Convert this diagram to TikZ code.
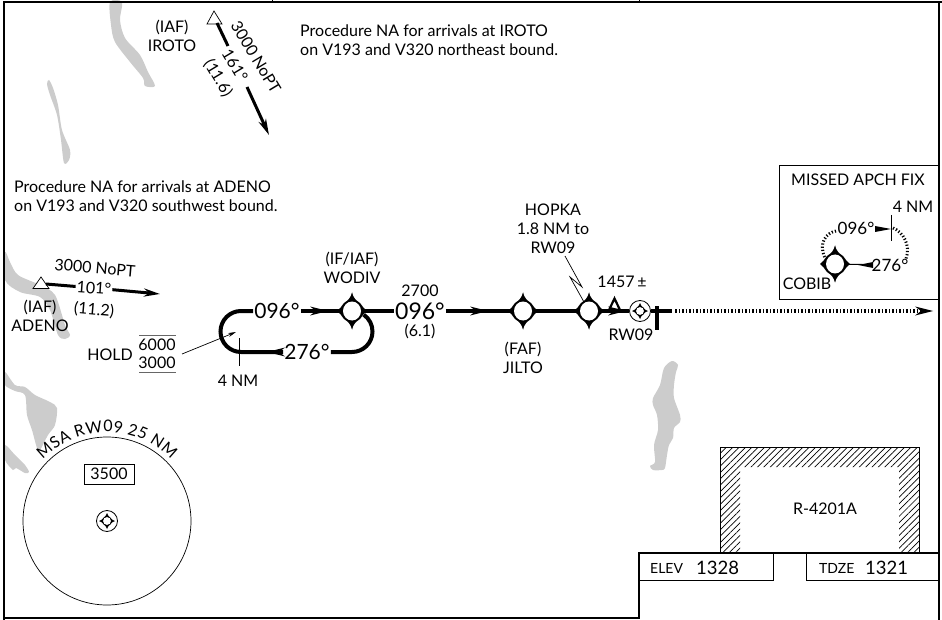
\documentclass[tikz,border=0pt]{standalone}
\usepackage{fontspec}
\setmainfont{Lato}
\usetikzlibrary{arrows.meta,patterns.meta,decorations.text}

% Concave four point fix symbol, drawn over the track at a named node
\newcommand{\fixmark}[1]{%
  \foreach \sx/\sy in {1/1,-1/1,1/-1,-1/-1} {
    \fill[shift={(#1)}, xscale=\sx, yscale=\sy] (0,-18.5) .. controls (1.5,-13) and (3.5,-11) .. (8,-8)
      .. controls (11,-4.5) and (12,-1.5) .. (15,0) -- (0,0) -- cycle;
  }
  \foreach \sx/\sy in {1/1,-1/1,1/-1,-1/-1} {
    \fill[white, shift={(#1)}, xscale=\sx, yscale=\sy] (0,-9.5) .. controls (5,-9.5) and (9,-5) .. (9,0) -- (0,0) -- cycle;
  }
}
% Small version of the same for the VOR rose
\newcommand{\vormark}[1]{%
  \draw[line width=0.8pt, fill=white] (#1) circle[radius=10.5];
  \foreach \sx/\sy in {1/1,-1/1,1/-1,-1/-1} {
    \fill[shift={(#1)}, xscale=\sx, yscale=\sy] (0,-8) .. controls (0.5,-5.5) and (2,-4.5) .. (3.4,-3.4)
      .. controls (4.5,-2) and (5.5,-0.5) .. (8,0) -- (0,0) -- cycle;
  }
  \fill[white] (#1) circle[radius=3.9];
}
% Feathered head in the middle of a track
\newcommand{\barb}[2]{%
  \fill[shift={(#1)}, rotate=#2] (0,0) -- (-18,-4.5) -- (-12,0) -- (-18,4.5) -- cycle;
}

\begin{document}
\begin{tikzpicture}[x=1pt, y=-1pt,
    lbl/.style={inner sep=0pt, align=center, font=\fontsize{16}{19}\selectfont},
    small/.style={lbl, font=\fontsize{14}{18}\selectfont},
    course/.style={inner sep=1pt, fill=white, font=\fontsize{21}{21}\selectfont},
    note/.style={inner sep=0pt, align=left, anchor=west, font=\fontsize{16}{19}\selectfont},
    track/.style={line width=4pt},
    leg/.style={line width=3pt},
    thinline/.style={line width=0.7pt},
    fixnode/.style={circle, inner sep=0pt, minimum size=20pt},
    lake/.style={fill=black!20, draw=none}]
\useasboundingbox (0,0) rectangle (942,620);

% Lakes
\fill[lake] plot[smooth cycle] coordinates {(110,2) (122,2) (120,20) (125,38) (140,55) (148,72) (155,86) (145,86) (143,78) (130,62) (115,42) (111,25)};
\fill[lake] plot[smooth cycle] coordinates {(49,80) (53,88) (58,105) (62,130) (70,150) (69,160) (64,163) (61,140) (57,115) (50,95) (47,84)};
\fill[lake] plot[smooth cycle] coordinates {(5,252) (10,262) (18,275) (40,285) (55,295) (65,325) (70,335) (65,339) (58,335) (50,310) (40,297) (20,292) (5,280)};
\fill[lake] plot[smooth cycle] coordinates {(5,372) (15,385) (25,387) (35,395) (50,402) (57,408) (55,425) (48,435) (40,450) (37,448) (32,430) (27,415) (25,395) (15,391) (5,385)};
\fill[lake] plot[smooth cycle] coordinates {(5,445) (15,455) (25,465) (29,472) (25,473) (16,468) (13,470) (5,460)};
\fill[lake] plot[smooth cycle] coordinates {(672,361) (678,365) (676,372) (674,385) (674,398) (680,415) (680,422) (674,428) (673,438) (669,445) (667,455) (665,468) (662,470) (653,470) (650,466) (655,462) (654,445) (658,430) (657,415) (653,405) (653,398) (660,385) (664,368)};

% Restricted area
\fill[pattern={Lines[angle=45, distance=4.5pt, line width=0.7pt]}, even odd rule]
  (720,447) rectangle (919,553) (740,467) rectangle (899,553);
\draw[thinline] (720,553) -- (720,447) -- (919,447) -- (919,553);
\node[lbl] (area) at (825,509) {R-4201A};

% Chart frame
\draw[line width=2pt] (4,620) -- (4,2) -- (942,2);
\draw[line width=2pt] (4,618) -- (639,618) -- (639,553) -- (939,553);
\draw[line width=2pt] (939,2) -- (939,620);
\draw[line width=1pt] (272,0) -- (272,2);
\draw[line width=1pt] (639,0) -- (639,2);
\draw[thinline] (639,580) -- (773,580) -- (773,553);
\draw[thinline] (806,553) -- (806,580) -- (939,580);
\node[small, anchor=west] (elev) at (650,568) {ELEV};
\node[lbl, anchor=west, font=\fontsize{18.5}{20}\selectfont] (elevval) at (696,568) {1328};
\node[small, anchor=west] (tdze) at (819,568) {TDZE};
\node[lbl, anchor=west, font=\fontsize{18.5}{20}\selectfont] (tdzeval) at (865,568) {1321};

% Procedure notes
\node[note] (notenorth) at (300,40) {Procedure NA for arrivals at IROTO\\on V193 and V320 northeast bound.};
\node[note] (notesouth) at (14,196) {Procedure NA for arrivals at ADENO\\on V193 and V320 southwest bound.};

% Fixes on the final course
\node[fixnode] (wodiv) at (352,311) {};
\node[fixnode] (jilto) at (523,311) {};
\node[fixnode] (hopka) at (589,311) {};
\node[circle, inner sep=0pt, minimum size=21pt] (rwy) at (640,311) {};
\coordinate (thr) at (672,311);
\coordinate (mapend) at (925,311);

% Final course
\node[course, font=\fontsize{23}{23}\selectfont] (crsfinal) at (420,311) {096°};
\node[lbl, above of=crsfinal, node distance=20pt] (alt) {2700};
\node[lbl, below of=crsfinal, node distance=20pt] (dist) {(6.1)};
\draw[track] (wodiv) -- (crsfinal);
\draw[track] (crsfinal) -- (jilto);
\draw[track] (jilto) -- (hopka);
\draw[track] (hopka) -- (rwy);
\draw[track] (rwy) -- (thr);
\draw[line width=3.4pt, dash pattern=on 1.5pt off 2pt] (thr) ++(3,0) -- (mapend);
\barb{488,311}{0}
\barb{626,311}{0}
\barb{933,311}{0}
\draw[line width=3.6pt] (657,306) -- (657,330);

% Holding pattern
\node[course] (hold096) at (277,311) {096°};
\node[course] (hold276) at (307,352) {276°};
\draw[track] (hold096) -- (wodiv);
\draw[track] (hold096.west) -- (241,311) arc (270:90:20.5) -- (hold276.west);
\draw[track] (hold276.east) -- (352,352) arc (90:-55:20.5);
\barb{328,311}{0}
\barb{267,352}{180}
\draw[thinline] (239,338) -- (239,366);
\node[lbl] (holddist) at (238,381) {4 NM};
\node[lbl] (holdword) at (110,355) {HOLD};
\node[lbl] (holdtop) at (157,345) {6000};
\node[lbl] (holdlow) at (157,363) {3000};
\draw[line width=1pt, black!60] (139,335.5) -- (176,335.5) (139,372) -- (176,372);
\coordinate (holdtip) at (236,332);
\draw[thinline, -{Stealth[length=8pt, width=4pt]}] (182,354) -- (holdtip);

% Fix symbols and their names
\fixmark{wodiv}
\fixmark{jilto}
\fixmark{hopka}
\vormark{rwy}
\node[lbl, above of=wodiv, node distance=43pt] (wodivtag) {(IF/IAF)\\WODIV};
\node[lbl, below of=jilto, node distance=47pt] (jiltotag) {(FAF)\\JILTO};
\node[lbl] (hopkatag) at (553,229) {HOPKA\\1.8 NM to\\RW09};
\draw[thinline] (hopkatag.south) ++(12,2) -- (582,287) -- (570,277) -- (hopka);
\node[lbl] (rwytag) at (631,335) {RW09};
\node[lbl] (obst) at (622,282) {1457\,±};
\draw[line width=2.2pt] (614.5,298.5) -- (620,310) -- (609,310) -- cycle;

% Arrival from ADENO
\draw[thinline, fill=white] (41,277) -- (49,288.5) -- (33,288.5) -- cycle;
\node[lbl, rotate=-4, inner sep=1pt] (crsadeno) at (94,288) {101°};
\node[lbl, rotate=-5] (altadeno) at (95,268) {3000 NoPT};
\node[lbl, rotate=-5] (distadeno) at (94,310) {(11.2)};
\draw[leg] (46,284) -- (crsadeno);
\draw[leg, -{Stealth[length=16pt, width=8pt, inset=5pt]}] (crsadeno) -- (160,294);
\node[lbl] (adenotag) at (40,316) {(IAF)\\ADENO};

% Arrival from IROTO
\draw[thinline, fill=white] (214,11) -- (222,24) -- (207,24) -- cycle;
\node[lbl, rotate=-59, inner sep=1pt] (crsiroto) at (235,65) {161°};
\node[lbl, rotate=-59] (altiroto) at (256,57) {3000 NoPT};
\node[lbl, rotate=-59] (distiroto) at (218,78) {(11.6)};
\draw[leg] (217,23) -- (228,46);
\draw[leg, -{Stealth[length=16pt, width=8pt, inset=5pt]}] (247,87) -- (269,135);
\node[lbl] (irototag) at (172,36) {(IAF)\\IROTO};

% Missed approach inset
\draw[line width=1pt] (939,299) -- (779,299) -- (779,166) -- (939,166);
\node[lbl] (mapfix) at (858,180) {MISSED APCH FIX};
\node[fixnode] (cobib) at (835,264) {};
\node[lbl, font=\fontsize{17}{17}\selectfont, inner sep=1pt] (map096) at (856,228) {096°};
\node[lbl, font=\fontsize{17}{17}\selectfont, inner sep=1pt] (map276) at (890,265) {276°};
\draw[line width=1pt] (cobib) -- (map276);
\fill (858,265) -- (873,262) -- (873,268) -- cycle;
\fill (891,229) -- (875,226) -- (875,232) -- cycle;
\draw[line width=3pt, dash pattern=on 1.2pt off 2pt] (836,231) .. controls (826,233) and (818,243) .. (825,258);
\draw[line width=3pt, dash pattern=on 1.2pt off 2pt] (893,228) .. controls (903,232) and (911,245) .. (906,259);
\draw[thinline] (891,215) -- (891,241);
\node[lbl] (mapdist) at (913,207) {4 NM};
\fixmark{cobib}
\node[lbl] (cobibtag) at (807,284) {COBIB};

% Minimum safe altitude circle
\node[circle, draw, thinline, minimum size=168pt, inner sep=0pt] (msa) at (107,521) {};
\path[decorate, decoration={text along path, text align=center, raise=4pt,
    text={|\fontsize{16}{16}\selectfont|MSA RW09 25 NM}}] (107,521) ++(218:85) arc (218:322:85);
\node[draw, thinline, minimum width=50pt, minimum height=20pt, inner sep=0pt, lbl] (msaalt) at (109,474) {3500};
\vormark{msa}
\end{tikzpicture}
\end{document}
